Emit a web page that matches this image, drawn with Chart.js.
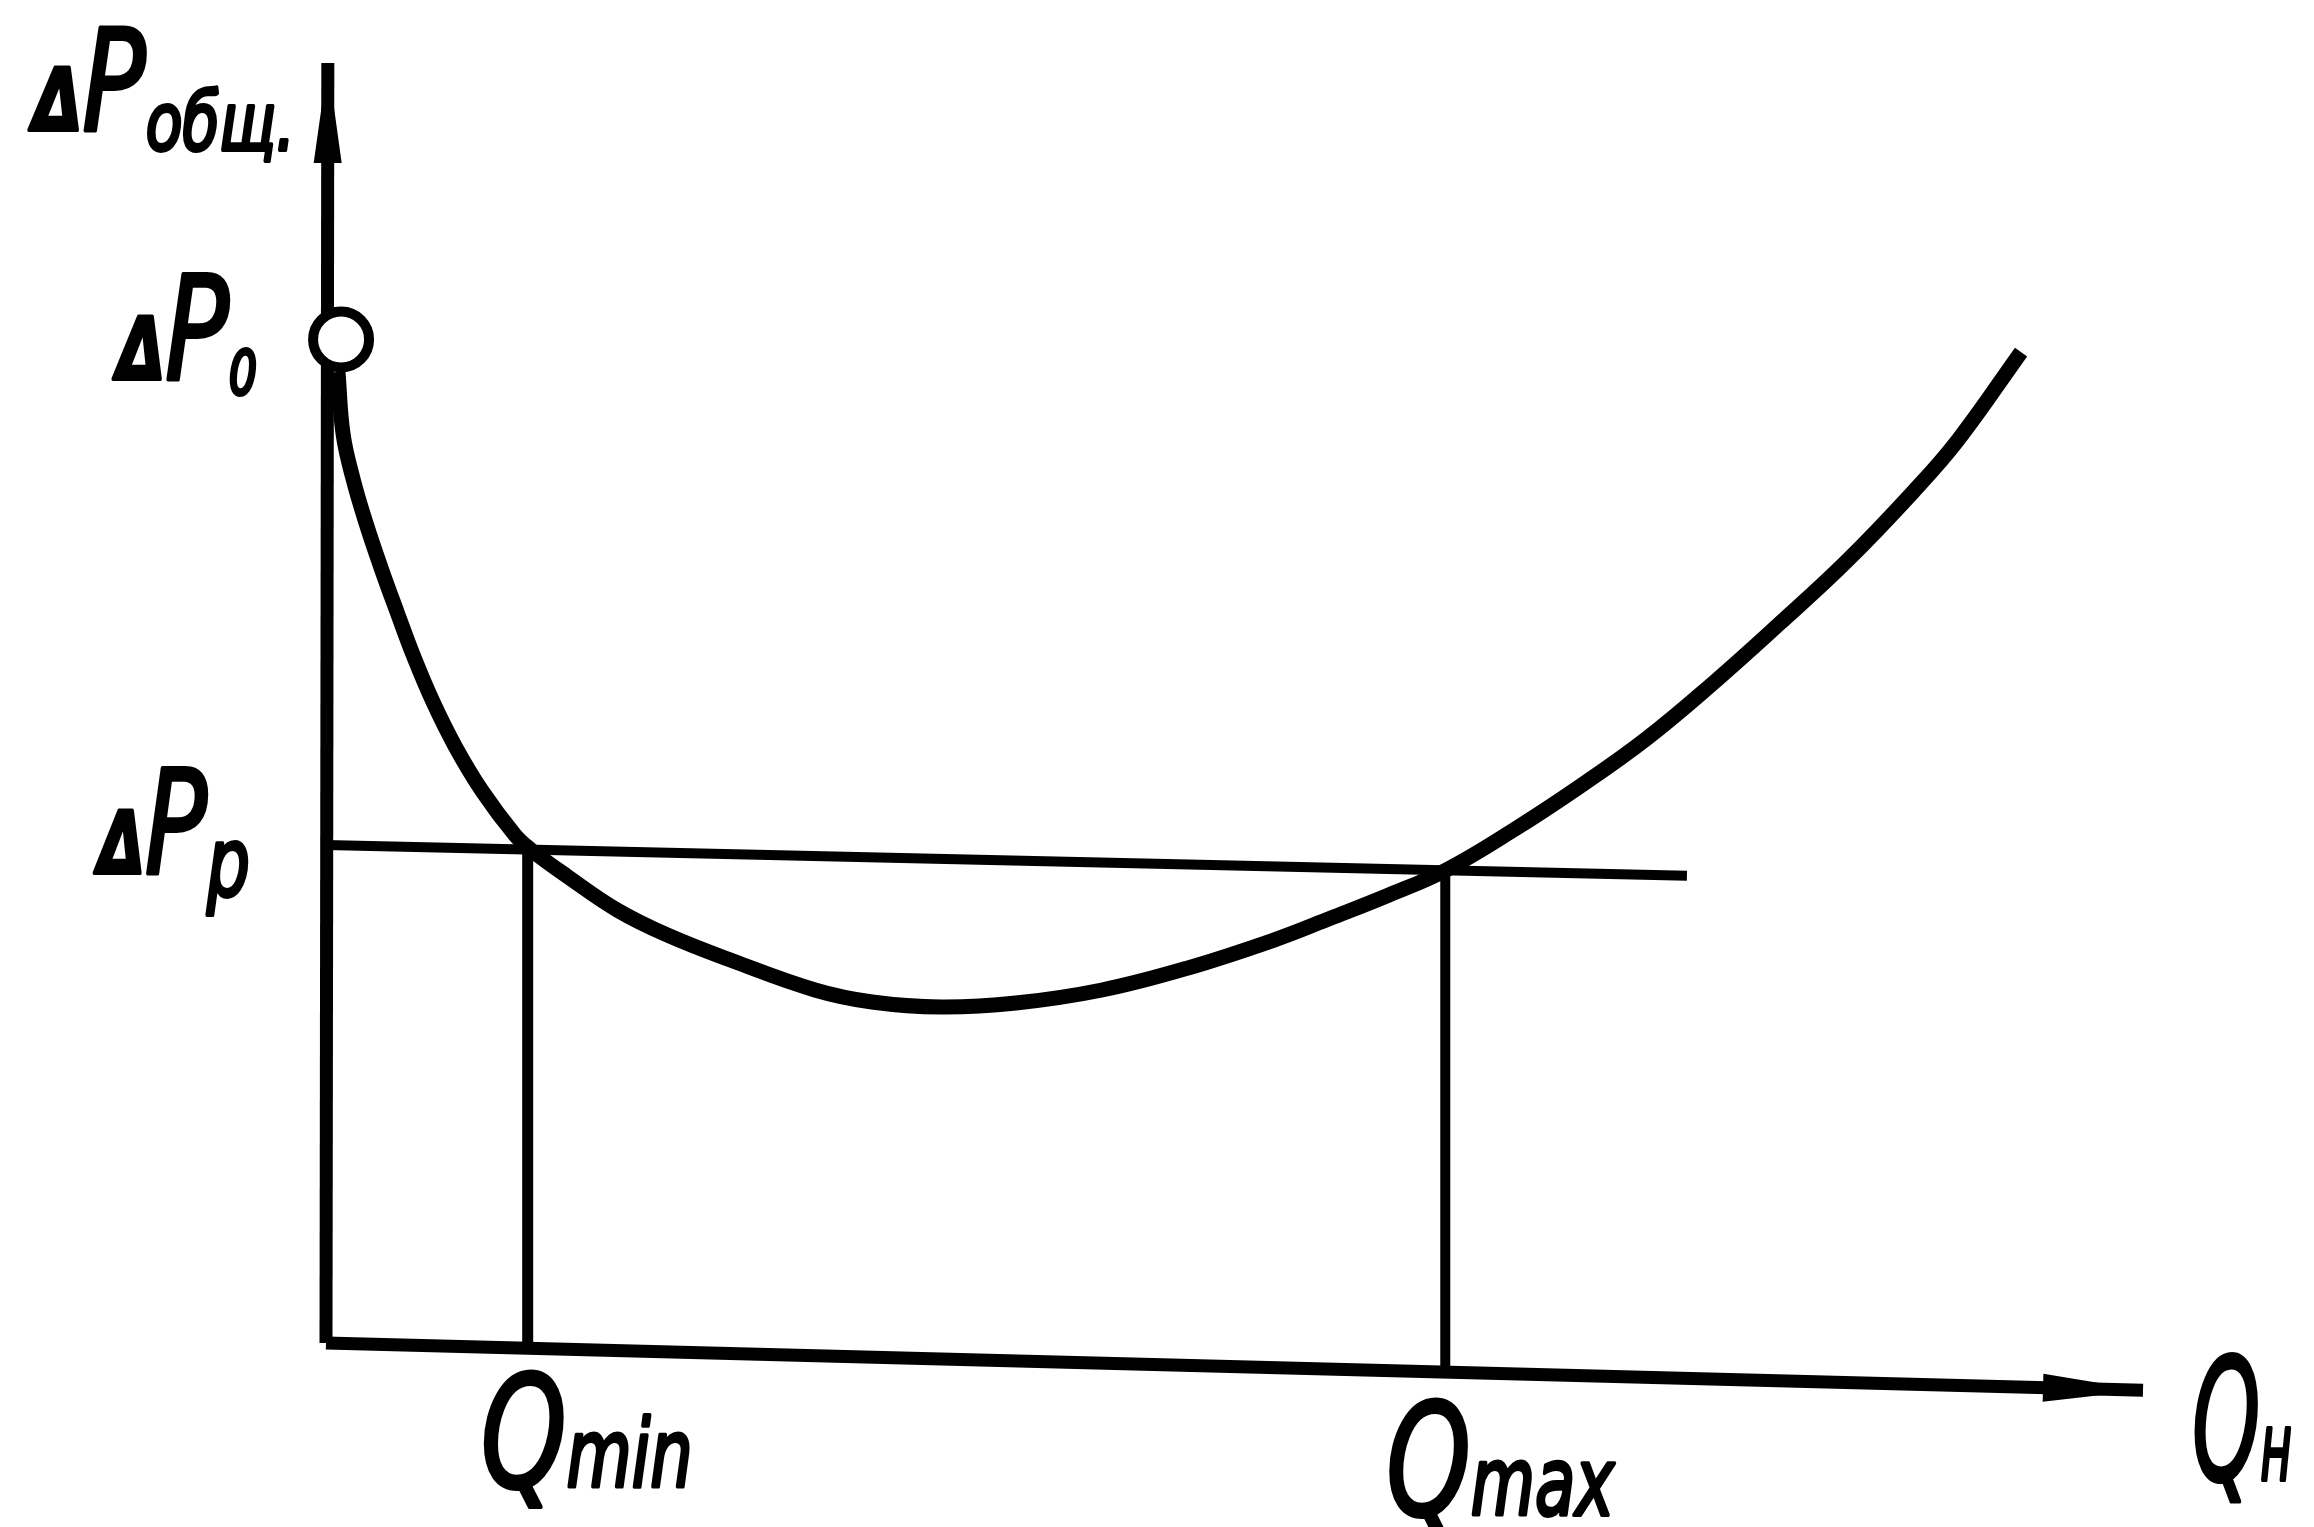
<!DOCTYPE html>
<html>
<head>
<meta charset="utf-8">
<script src="https://cdn.jsdelivr.net/npm/chart.js@4/dist/chart.umd.min.js"></script>
<style>
    html, body { margin: 0; padding: 0; background: #fff; }
    #wrap { width: 2314px; height: 1527px; }
</style>
</head>
<body>
<div id="wrap"><canvas id="myChart"></canvas></div>
<script>
// values: Q runs 0..100 along the axis, ΔP runs 0..100 up the axis

// ΔPобщ(Qн) curve
const curveQ = [0.66, 0.94, 1.49, 2.2, 3.03, 3.91, 4.84, 5.89, 7.1, 8.59, 10.4, 11.23, 13.26, 16.02, 18.77, 22.4, 26.91, 30.05, 33.85, 37.97, 42.71, 47.44, 52.17, 55.31, 58.5, 61.64, 65.27, 68.96, 72.65, 76.28, 79.97, 83.65, 87.34, 89.82, 93.29];
const curveDp = [75.86, 71.02, 67.5, 64.06, 60.55, 57.11, 53.59, 50.08, 46.64, 43.13, 39.69, 38.59, 36.48, 33.83, 31.88, 29.84, 27.58, 26.64, 26.25, 26.56, 27.58, 29.3, 31.48, 33.2, 35.0, 36.95, 40.0, 43.44, 47.19, 51.48, 56.17, 61.02, 66.48, 70.55, 77.42];

// ΔP0 point (small circle on the axis)
const dp0Q = 0.83;
const dp0 = 78.4;

// ΔPp line (drawn a bit sloped)
const dpPQ = [0, 74.9];
const dpP = [38.9, 36.5];

// Qmin / Qmax drop lines
const qMin = 11.1;
const qMinDp = [38.6, -0.4];
const qMax = 61.6;
const qMaxDp = [37.0, -2.3];

// hand drawn axes
const xAxisQ = [0, 100];
const xAxisDp = [0, -3.7];
const yAxisQ = [0, 0.1];
const yAxisDp = [0, 100];

// label texts
const yTitle = ['Δ', 'P', 'общ.'];
const dp0Text = ['Δ', 'P', '0'];
const dpPText = ['Δ', 'P', 'р'];
const qMinText = ['Q', 'min'];
const qMaxText = ['Q', 'max'];
const xTitle = ['Q', 'н'];

const pts = (xs, ys) => xs.map((v, i) => ({ x: v, y: ys[i] }));

// narrow arrow heads at the ends of the two axes
const axisArrows = {
    id: 'axisArrows',
    afterDatasetsDraw(chart) {
        const { ctx } = chart;
        [5, 6].forEach((idx) => {
            const els = chart.getDatasetMeta(idx).data;
            const tip = els[els.length - 1];
            const prev = els[els.length - 2];
            const dx = tip.x - prev.x, dy = tip.y - prev.y;
            const len = Math.hypot(dx, dy);
            const ux = dx / len, uy = dy / len;
            const bx = tip.x - ux * 100, by = tip.y - uy * 100;
            ctx.save();
            ctx.fillStyle = '#000';
            ctx.beginPath();
            ctx.moveTo(tip.x, tip.y);
            ctx.lineTo(bx - uy * 14, by + ux * 14);
            ctx.lineTo(bx + uy * 14, by - ux * 14);
            ctx.closePath();
            ctx.fill();
            ctx.restore();
        });
    }
};

// draws the handwritten style labels
const sketchLabels = {
    id: 'sketchLabels',
    afterDatasetsDraw(chart) {
        const { ctx, scales: { x, y } } = chart;
        const font = (t, px) => (t === 'Δ' ? 'bold ' : '') + 'italic ' + px + 'px "DejaVu Sans"';

        function write(texts, sizes, drops, left, baseline, width) {
            ctx.save();
            ctx.fillStyle = '#000';
            ctx.strokeStyle = '#000';
            ctx.lineWidth = 4;
            ctx.lineJoin = 'round';
            ctx.textBaseline = 'alphabetic';
            let total = 0;
            texts.forEach((t, i) => { ctx.font = font(t, sizes[i]); total += ctx.measureText(t).width; });
            ctx.translate(left, baseline);
            ctx.scale(width / total, 1);
            let cx = 0;
            texts.forEach((t, i) => {
                ctx.font = font(t, sizes[i]);
                ctx.fillText(t, cx, drops[i]);
                ctx.strokeText(t, cx, drops[i]);
                cx += ctx.measureText(t).width;
            });
            ctx.restore();
        }

        const x0 = x.getPixelForValue(0);
        const y0 = y.getPixelForValue(0);

        write(yTitle, [85, 140, 80], [0, 0, 20], x0 - 293, y.getPixelForValue(100) + 67, 262);
        write(dp0Text, [85, 145, 60], [0, 0, 15], x0 - 209, y.getPixelForValue(dp0) + 40, 140);
        write(dpPText, [85, 145, 95], [0, 0, 22], x0 - 228, y.getPixelForValue(dpP[0]) + 28, 152);
        write(qMinText, [155, 95], [0, 0], x.getPixelForValue(qMin) - 47, y0 + 144, 212);
        write(qMaxText, [155, 95], [0, 0], x.getPixelForValue(qMax) - 59, y0 + 172, 228);
        write(xTitle, [170, 95], [0, 0], x.getPixelForValue(100) + 49, y0 + 137, 100);
    }
};

const ctx = document.getElementById('myChart').getContext('2d');
const chart = new Chart(ctx, {
    type: 'scatter',
    data: {
        datasets: [
            {
                label: 'ΔP0',
                data: [{ x: dp0Q, y: dp0 }],
                pointRadius: 28,
                pointBorderWidth: 10,
                pointBorderColor: '#000',
                pointBackgroundColor: '#fff',
                clip: false
            },
            {
                label: 'ΔPобщ',
                data: pts(curveQ, curveDp),
                showLine: true,
                borderColor: '#000',
                borderWidth: 15,
                tension: 0.4,
                pointRadius: 0,
                clip: false
            },
            {
                label: 'ΔPp',
                data: pts(dpPQ, dpP),
                showLine: true,
                borderColor: '#000',
                borderWidth: 10,
                pointRadius: 0,
                clip: false
            },
            {
                label: 'Qmin',
                data: pts([qMin, qMin], qMinDp),
                showLine: true,
                borderColor: '#000',
                borderWidth: 11,
                pointRadius: 0,
                clip: false
            },
            {
                label: 'Qmax',
                data: pts([qMax, qMax], qMaxDp),
                showLine: true,
                borderColor: '#000',
                borderWidth: 10,
                pointRadius: 0,
                clip: false
            },
            {
                label: 'x axis',
                data: pts(xAxisQ, xAxisDp),
                showLine: true,
                borderColor: '#000',
                borderWidth: 13,
                pointRadius: 0,
                clip: false
            },
            {
                label: 'y axis',
                data: pts(yAxisQ, yAxisDp),
                showLine: true,
                borderColor: '#000',
                borderWidth: 13,
                pointRadius: 0,
                clip: false
            }
        ]
    },
    options: {
        responsive: true,
        maintainAspectRatio: false,
        animation: false,
        events: [],
        layout: { padding: { left: 326, right: 171, top: 63, bottom: 184 } },
        scales: {
            x: { type: 'linear', min: 0, max: 100, display: false },
            y: { type: 'linear', min: 0, max: 100, display: false }
        },
        plugins: {
            legend: { display: false },
            tooltip: { enabled: false }
        }
    },
    plugins: [axisArrows, sketchLabels]
});
</script>
</body>
</html>
